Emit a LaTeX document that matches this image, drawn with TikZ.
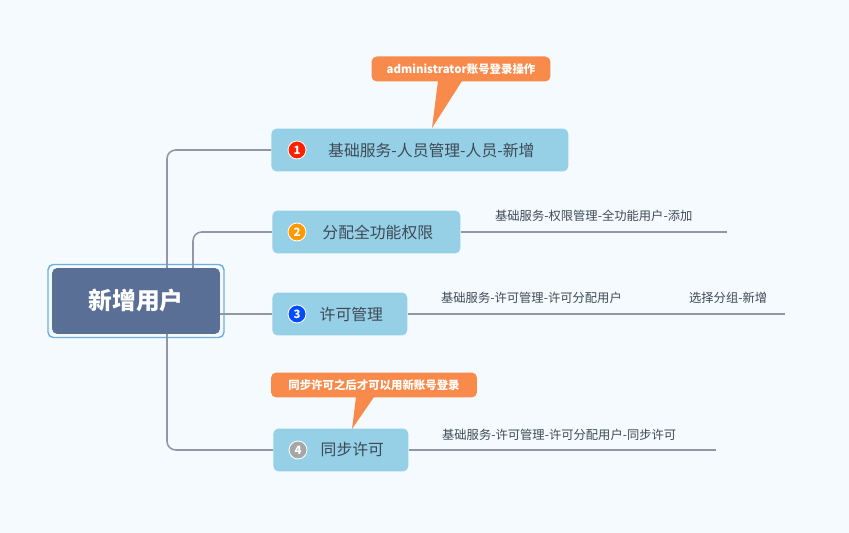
\documentclass[tikz,border=0pt]{standalone}
\usepackage{fontspec}
\setmainfont{Noto Sans CJK SC}
\usetikzlibrary{positioning}
\definecolor{bgc}{HTML}{F5FAFE}
\definecolor{rootc}{HTML}{5A6F96}
\definecolor{topicc}{HTML}{95D0E6}
\definecolor{linec}{HTML}{9098A8}
\definecolor{notec}{HTML}{F88B4B}
\definecolor{txtc}{HTML}{3E4A55}
\begin{document}
\begin{tikzpicture}[x=0.02cm,y=-0.02cm,
  topic_node/.style={rounded corners=3pt,fill=topicc,text=txtc,minimum height=0.86cm,inner xsep=8pt,font=\fontsize{9}{9}\selectfont,anchor=west},
  note_node/.style={rounded corners=3pt,fill=notec,text=white,font=\bfseries\fontsize{6.5}{7}\selectfont,minimum height=0.5cm,inner xsep=4pt},
  num_node/.style={circle,draw=white,line width=0.5pt,text=white,font=\bfseries\fontsize{6.5}{6}\selectfont,inner sep=0pt,minimum size=0.36cm},
  link/.style={draw=linec,line width=0.9pt,rounded corners=5pt},
  sub_text/.style={text=txtc,font=\fontsize{7}{7}\selectfont,anchor=south west,inner sep=1pt}]

\fill[bgc] (0,0) rectangle (849,533);
\useasboundingbox (0,0) rectangle (849,533);

% central topic
\node[rounded corners=3pt,draw=cyan!70!blue!60,line width=0.8pt,minimum width=3.52cm,minimum height=1.46cm] (rootframe) at (136,301) {};
\node[rounded corners=3pt,fill=rootc,text=white,minimum width=3.36cm,minimum height=1.32cm,font=\bfseries\fontsize{13.5}{14}\selectfont] (root) at (136,301) {新增用户};

% main branches
\node[topic_node,minimum width=5.94cm] (t1) at (271,150) {\hspace{4.6mm}基础服务-人员管理-人员-新增};
\node[topic_node,minimum width=3.76cm] (t2) at (272,232) {\hspace{4.6mm}分配全功能权限};
\node[topic_node,minimum width=2.7cm] (t3) at (272,314) {\hspace{4.6mm}许可管理};
\node[topic_node,minimum width=2.7cm] (t4) at (273,450) {\hspace{4.6mm}同步许可};

\node[num_node,fill=red!75!orange] (n1) at (297,150) {1};
\node[num_node,fill=orange!80!yellow] (n2) at (297,232) {2};
\node[num_node,fill=blue!70!cyan] (n3) at (297,314) {3};
\node[num_node,fill=gray!70] (n4) at (298,450) {4};

\coordinate (r1) at (167,268);
\coordinate (r2) at (193,268);
\coordinate (r4) at (167,334);
\draw[link] (r1) |- (t1.west);
\draw[link] (r2) |- (t2.west);
\draw[link] (root.east |- t3.west) -- (t3.west);
\draw[link] (r4) |- (t4.west);

% details
\coordinate (e2) at (727,232);
\coordinate (e3) at (785,314);
\coordinate (e4) at (716,450);
\draw[link] (t2.east) -- (e2);
\draw[link] (t3.east) -- (e3);
\draw[link] (t4.east) -- (e4);
\node[sub_text] (s2) at (493,224) {基础服务-权限管理-全功能用户-添加};
\node[sub_text] (s3a) at (439,306) {基础服务-许可管理-许可分配用户};
\node[sub_text] (s3b) at (687,306) {选择分组-新增};
\node[sub_text] (s4) at (440,443) {基础服务-许可管理-许可分配用户-同步许可};

% notes
\node[note_node,minimum width=3.58cm] (c1) at (461,69) {administrator账号登录操作};
\node[note_node,minimum width=4.12cm] (c2) at (374,385) {同步许可之后才可以用新账号登录};
\fill[notec] (438,81) -- (432,128) -- (462,81) -- cycle;
\fill[notec] (356,397) -- (352,429) -- (374,397) -- cycle;
\end{tikzpicture}
\end{document}
